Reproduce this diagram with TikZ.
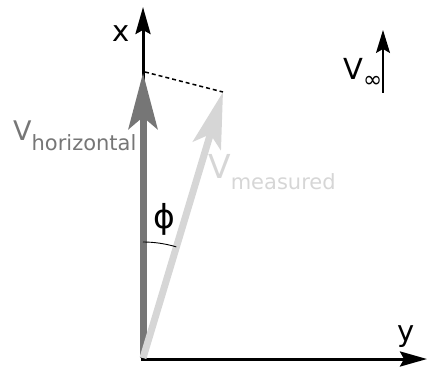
\documentclass[tikz,border=0pt]{standalone}
\usepackage{fontspec}
\setmainfont{DejaVu Sans}
\usetikzlibrary{arrows.meta}
\definecolor{darkg}{HTML}{767676}
\definecolor{lightg}{HTML}{D6D6D6}
\begin{document}
\begin{tikzpicture}[x=1pt,y=1pt,
  axis/.style={line width=3pt,-{Stealth[length=27pt,width=15pt,inset=4pt]}},
  bigvec/.style={line width=7pt,-{Stealth[length=56pt,width=29pt,inset=12pt]}},
  lbl/.style={inner sep=0pt,anchor=base west},
  lblc/.style={inner sep=0pt,anchor=base}]
\useasboundingbox (0,0) rectangle (427,370);
% coordinates
\coordinate (O) at (143,12);
\coordinate (Xtip) at (143,363);
\coordinate (Ystart) at (141,11);
\coordinate (Ytip) at (427,11);
\coordinate (H) at (143,297);
\coordinate (M) at (223,278);
\coordinate (Vb) at (383,277);
\coordinate (Vt) at (383,340);
% axes
\draw[axis] (O) -- (Xtip);
\draw[axis] (Ystart) -- (Ytip);
% vectors
\draw[bigvec,darkg] (O) -- (H);
\draw[bigvec,lightg] (O) -- (M);
\draw[black,line width=1.5pt,dash pattern=on 4pt off 3pt] (145,298) -- (M);
% angle arc
\draw[line width=0.9pt] ([shift={(90:116)}]O) arc (90:73.3:116);
% V infinity arrow
\draw[line width=1.4pt,-{Stealth[length=23pt,width=14pt,inset=4pt]}] (Vb) -- (Vt);
% labels
\node[lblc] (xl) at (121.5,328) {\fontsize{29}{29}\selectfont x};
\node[lblc] (yl) at (406.5,29) {\fontsize{29}{29}\selectfont y};
\node[lbl,text=darkg] (vh) at (13,230) {\fontsize{27}{27}\selectfont V\raisebox{-10pt}{\fontsize{21}{21}\selectfont horizontal}};
\node[lbl,text=lightg] (vm) at (208,192) {\fontsize{33}{33}\selectfont V\raisebox{-11pt}{\fontsize{21}{21}\selectfont measured}};
\node[lbl] (vi) at (343,290) {\fontsize{29}{29}\selectfont V\raisebox{-8pt}{\fontsize{23}{23}\selectfont ∞}};
\node[inner sep=0pt] (phi) at (164,151) {\fontsize{33}{33}\selectfont ϕ};
\end{tikzpicture}
\end{document}
